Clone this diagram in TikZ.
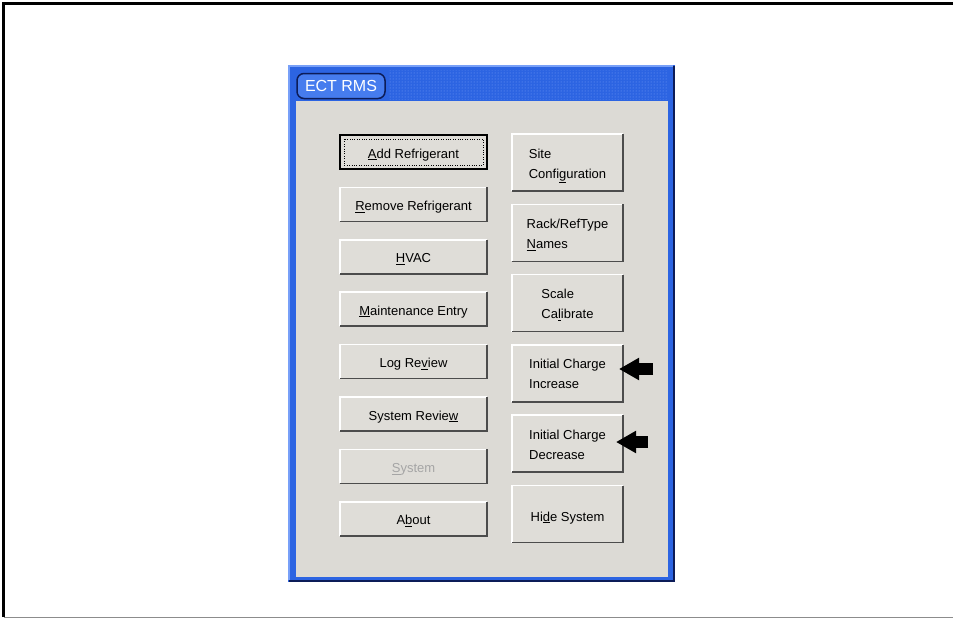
\documentclass[tikz,border=0pt]{standalone}
\usepackage{fontspec}
\setmainfont{Liberation Sans}
\usetikzlibrary{positioning,arrows.meta,patterns}

\definecolor{panel}{RGB}{220,218,213}
\definecolor{face}{RGB}{223,221,216}
\definecolor{winblue}{RGB}{44,100,226}
\definecolor{winlight}{RGB}{120,160,248}
\definecolor{windark}{RGB}{12,28,88}
\definecolor{tabblue}{RGB}{70,124,238}
\definecolor{dimtext}{RGB}{165,165,165}

\begin{document}
\begin{tikzpicture}[x=1pt,y=-1pt,
  lbtn/.style = {fill=face, inner sep=0pt, outer sep=0pt,
    minimum width=147pt, minimum height=34pt,
    text height=12pt, text depth=0pt,
    font=\fontsize{13}{15}\selectfont},
  rbtn/.style = {lbtn, minimum width=111pt, minimum height=57pt,
    align=left, text height=31pt, font=\fontsize{13}{20}\selectfont},
  tab/.style = {fill=tabblue, draw=windark, line width=1.5pt,
    rounded corners=7pt, minimum width=88pt, minimum height=25pt,
    inner sep=0pt, text=white, font=\fontsize{16}{18}\selectfont},
  pointer/.style = {line width=12pt, -{Triangle[length=20pt,width=21pt]}}]
  \useasboundingbox (0,0) rectangle (953,619);
  % page frame
  \draw[line width=2.5pt] (3.5,617) -- (3.5,3.5) -- (953,3.5);
  \draw[black!45, line width=1.5pt] (3.5,617.5) -- (953,617.5);
  % window
  \fill[winblue] (288,65) rectangle (675,582);
  \fill[pattern=dots, pattern color=winlight] (388,70) rectangle (668,99);
  \draw[windark, line width=2.5pt] (289,580.75) -- (673.75,580.75) -- (673.75,66);
  \draw[winlight, line width=2pt] (289,580) -- (289,66) -- (673,66);
  \fill[panel] (296,101) rectangle (668,577);
  \node[tab] (title) at (341,86) {ECT RMS};
  % left column
  \node[lbtn] (add) at (413.5,152) {\underline{A}dd Refrigerant};
  \node[lbtn, below=18.4pt of add] (remove) {\underline{R}emove Refrigerant};
  \node[lbtn, below=18.4pt of remove] (hvac) {\underline{H}VAC};
  \node[lbtn, below=18.4pt of hvac] (maint) {\underline{M}aintenance Entry};
  \node[lbtn, below=18.4pt of maint] (logrev) {Log Re\underline{v}iew};
  \node[lbtn, below=18.4pt of logrev] (sysrev) {System Revie\underline{w}};
  \node[lbtn, below=18.4pt of sysrev, text=dimtext] (system) {\underline{S}ystem};
  \node[lbtn, below=18.4pt of system] (about) {A\underline{b}out};
  % right column
  \node[rbtn] (site) at (567.5,162.5) {Site\\Confi\underline{g}uration};
  \node[rbtn, below=13.3pt of site] (rack) {Rack/RefType\\\underline{N}ames};
  \node[rbtn, below=13.3pt of rack] (scale) {Scale\\Ca\underline{l}ibrate};
  \node[rbtn, below=13.3pt of scale] (incr) {Initial Charge\\Increase};
  \node[rbtn, below=13.3pt of incr] (decr) {Initial Charge\\Decrease};
  \node[rbtn, below=13.3pt of decr, text height=14pt] (hide) {Hi\underline{d}e System};
  % bevels
  \foreach \b in {add,remove,hvac,maint,logrev,sysrev,system,about,
                  site,rack,scale,incr,decr,hide} {
    \draw[white, line width=1.5pt] (\b.south west) -- (\b.north west) -- (\b.north east);
    \draw[black!70, line width=1.5pt] (\b.north east) -- (\b.south east) -- (\b.south west);
  }
  % focus on first button
  \draw[line width=1.5pt] (add.north west) rectangle (add.south east);
  \draw[dotted] ([shift={(4,4)}]add.north west) rectangle ([shift={(-4,-4)}]add.south east);
  % pointers
  \coordinate (p1) at (653,369);
  \coordinate (p2) at (648,442);
  \draw[pointer] (p1) -- ([xshift=-4pt]incr.east |- p1);
  \draw[pointer] (p2) -- ([xshift=-7pt]decr.east |- p2);
\end{tikzpicture}
\end{document}
